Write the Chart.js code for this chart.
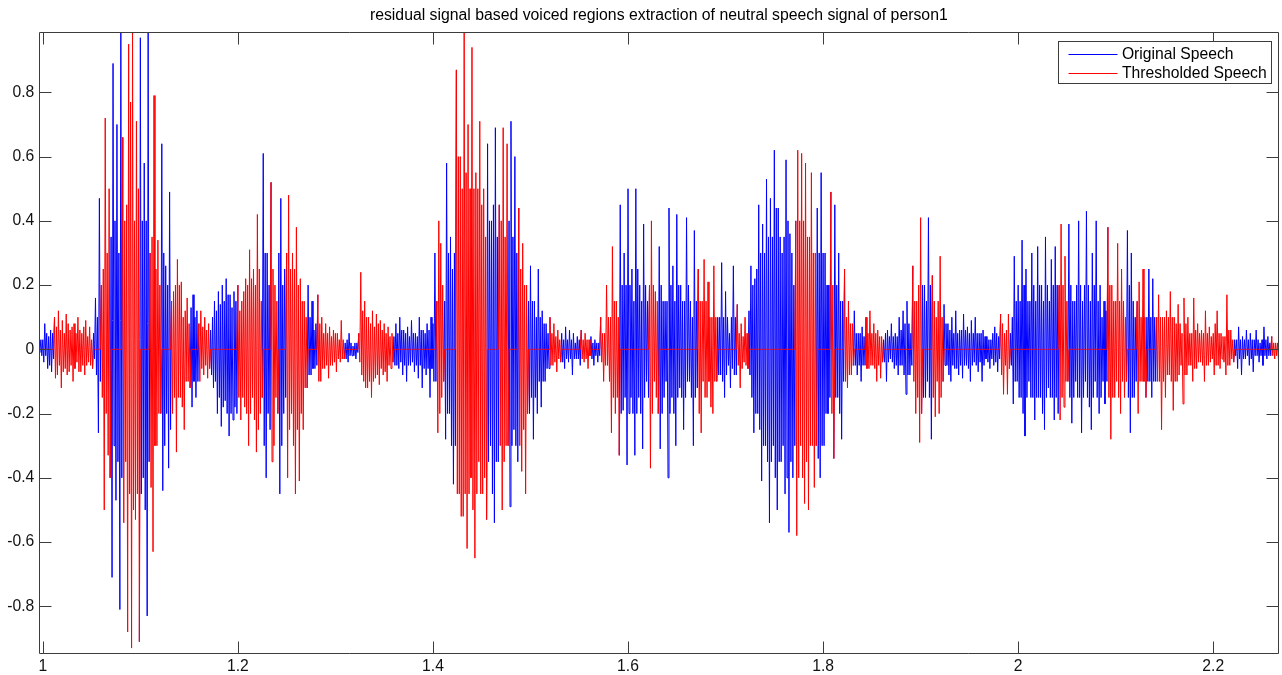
<!DOCTYPE html>
<html>
<head>
<meta charset="utf-8">
<title>residual signal based voiced regions extraction</title>
<script src="https://cdn.jsdelivr.net/npm/chart.js@4.4.1/dist/chart.umd.min.js"></script>
<style>
html,body{margin:0;padding:0;background:#fff;}
#wrap{width:1282px;height:675px;position:relative;}
canvas{display:block;}
</style>
</head>
<body>
<div id="wrap"><canvas id="c" width="1282" height="675"></canvas></div>
<script>
// ---------------- data ----------------
const chartTitle = 'residual signal based voiced regions extraction of neutral speech signal of person1';
const seriesLabels = ['Original Speech', 'Thresholded Speech'];

// time of first sample and sampling step (seconds)
const sampleStart = 0.996;
const sampleStep = 0.001;

// original speech amplitude, read as alternating local max / local min every 1 ms
const originalSpeech = [
  .02,-.01, .03,-.02,
  .03,-.04, .08,-.02, .05,-.06, .04,-.05, .06,-.07, .05,-.03,
  .1,-.09, .07,-.08, .12,-.05, .06,-.12, .09,-.07, .05,-.06, .11,-.08, .08,-.07, .06,-.05, .07,-.1,
  .08,-.06, .05,-.04, .1,-.07, .06,-.07, .05,-.05, .07,-.08, .09,-.05, .04,-.04, .07,-.05, .03,-.06,
  .05,-.03, .16,-.08, .1,-.26, .47,-.1,
  .2,-.15, .25,-.5, .72,-.2, .3,-.33, .5,-.4,
  .35,-.71, .89,-.3, .4,-.47, .7,-.35, .3,-.81, .99,-.4,
  .66,-.54, .4,-.35, .45,-.88, .95,-.45, .77,-.93, .99,-.5, .4,-.53, .71,-.45, .5,-.91,
  .97,-.45, .4,-.4, .58,-.5, .4,-.83, .99,-.35,
  .3,-.43, .35,-.63, .79,-.3, .25,-.3, .34,-.2, .2,-.2,
  .64,-.44, .3,-.3, .26,-.2, .2,-.37, .49,-.25,
  .15,-.2, .18,-.15, .2,-.32, .28,-.15, .2,-.15, .21,-.18, .1,-.25, .12,-.1, .16,-.1, .08,-.12,
  .13,-.18, .17,-.1, .1,-.15, .12,-.1,
  .08,-.1, .12,-.06, .07,-.08, .1,-.05, .06,-.09, .08,-.06,
  .06,-.08, .1,-.12, .15,-.1, .12,-.2, .18,-.15, .14,-.24, .2,-.18, .15,-.16, .22,-.2, .17,-.27,
  .17,-.2, .13,-.22, .18,-.18, .15,-.2,
  .2,-.15, .12,-.22, .15,-.15, .18,-.18, .22,-.2, .2,-.3, .31,-.2, .22,-.15, .25,-.22, .2,-.32,
  .42,-.25, .25,-.2, .15,-.15,
  .61,-.3, .3,-.4, .3,-.2, .2,-.25,
  .52,-.35, .25,-.3, .2,-.15, .15,-.2,
  .3,-.45, .47,-.3, .2,-.2, .25,-.15,
  .3,-.4, .48,-.25, .25,-.2, .3,-.3, .25,-.45, .38,-.25, .2,-.41, .22,-.2, .15,-.25, .15,-.12, .1,-.12,
  .2,-.08, .1,-.08, .15,-.06, .06,-.06, .08,-.05,
  .17,-.1, .08,-.1, .1,-.06, .05,-.06, .08,-.05, .05,-.09, .07,-.05, .04,-.05, .06,-.04, .05,-.07,
  .05,-.03, .03,-.04, .09,-.03, .03,-.03,
  .02,-.03, .03,-.04, .05,-.02, .02,-.02, .01,-.02, .02,-.03, .02,-.01,
  .05,-.04, .24,-.08, .12,-.1, .15,-.12, .1,-.12, .1,-.1, .08,-.15, .12,-.1, .07,-.09, .11,-.08,
  .08,-.11, .09,-.06, .06,-.08, .08,-.07, .05,-.1, .07,-.05, .04,-.06, .05,-.04,
  .04,-.05, .08,-.05, .05,-.06, .1,-.04, .06,-.08, .06,-.05, .05,-.1, .07,-.05, .04,-.05, .09,-.04,
  .05,-.07, .05,-.05, .04,-.09, .1,-.05, .06,-.12, .06,-.06, .05,-.08, .08,-.06, .06,-.15, .1,-.06,
  .08,-.1,
  .3,-.1,
  .15,-.26, .4,-.2, .33,-.15, .2,-.1,
  .15,-.28, .58,-.2, .3,-.2, .35,-.3, .25,-.42, .3,-.3,
  .87,-.45, .6,-.45, .6,-.52, .5,-.52, .99,-.45, .55,-.62, .7,-.45, .5,-.4, .94,-.5, .5,-.65,
  .55,-.45, .5,-.35, .71,-.45, .45,-.45, .5,-.4, .35,-.53,
  .64,-.35, .4,-.3, .4,-.45, .45,-.54, .69,-.35, .35,-.35,
  .45,-.3, .4,-.5, .69,-.35, .35,-.3, .64,-.3,
  .4,-.49, .71,-.3, .35,-.25, .6,-.3, .3,-.35,
  .44,-.3, .25,-.38, .33,-.25, .2,-.45, .2,-.2,
  .15,-.2, .26,-.15, .15,-.28, .15,-.15, .1,-.2, .25,-.1, .1,-.18, .12,-.1, .08,-.1, .08,-.06, .05,-.06,
  .1,-.05, .05,-.05, .08,-.04, .04,-.07, .06,-.03, .03,-.04,
  .05,-.04, .03,-.06, .07,-.03, .03,-.04, .06,-.03, .03,-.08, .05,-.03, .02,-.03, .04,-.03, .03,-.05,
  .06,-.03, .03,-.04, .05,-.03, .03,-.06, .03,-.02,
  .04,-.03, .02,-.05, .03,-.02, .02,-.04, .02,-.02,
  .1,-.04, .05,-.1, .05,-.05, .2,-.05, .1,-.1, .1,-.26, .32,-.15, .15,-.2, .15,-.15, .1,-.33,
  .45,-.2, .2,-.19, .3,-.15, .2,-.36, .5,-.2, .2,-.15, .25,-.2, .15,-.33, .5,-.2, .25,-.15,
  .2,-.2, .15,-.31, .39,-.15, .2,-.1, .15,-.15,
  .2,-.37, .4,-.2, .2,-.1, .18,-.15, .15,-.2,
  .32,-.31, .2,-.2, .15,-.15, .15,-.1, .15,-.4, .44,-.2, .2,-.15, .26,-.2, .15,-.3, .42,-.15,
  .2,-.12, .2,-.15, .15,-.25, .15,-.15, .41,-.1, .2,-.1, .15,-.15, .1,-.3, .37,-.15, .15,-.12,
  .25,-.2, .15,-.26, .15,-.1, .28,-.15, .15,-.15, .21,-.1, .1,-.18, .1,-.2, .26,-.1, .1,-.1,
  .1,-.08, .1,-.08, .27,-.1, .1,-.15, .18,-.08, .1,-.05, .05,-.12, .1,-.06, .26,-.08, .1,-.08,
  .14,-.05, .05,-.12, .08,-.06, .04,-.04, .1,-.05, .05,-.06,
  .12,-.08, .26,-.15, .2,-.26, .22,-.2, .25,-.2, .45,-.25, .3,-.41, .39,-.3, .3,-.3, .53,-.35,
  .35,-.54, .47,-.35, .35,-.3, .62,-.4, .44,-.5, .44,-.35, .35,-.35, .3,-.3, .35,-.45, .59,-.4,
  .4,-.57, .36,-.35, .3,-.4, .2,-.3,
  .4,-.58, .62,-.4, .4,-.3, .61,-.4, .4,-.48, .58,-.35, .35,-.5, .35,-.3, .55,-.3, .3,-.43, .3,-.3,
  .44,-.34, .3,-.4, .55,-.3, .3,-.3, .3,-.2, .2,-.2, .2,-.15,
  .49,-.2, .2,-.34,
  .45,-.15, .2,-.15, .3,-.2, .15,-.28, .15,-.1,
  .25,-.1, .1,-.12, .15,-.08, .08,-.08, .08,-.05,
  .12,-.05, .05,-.08, .05,-.05, .05,-.1, .07,-.05, .04,-.05,
  .1,-.06, .05,-.06, .12,-.05, .05,-.05, .08,-.06, .05,-.1, .06,-.05, .04,-.09, .04,-.04,
  .03,-.04, .05,-.1, .06,-.04, .04,-.03, .08,-.04, .04,-.06, .05,-.05, .04,-.08, .1,-.05, .06,-.05,
  .12,-.08, .08,-.14, .15,-.08, .08,-.08, .05,-.05,
  .26,-.1, .15,-.2, .15,-.15, .2,-.29, .41,-.2,
  .2,-.15, .2,-.15, .15,-.1, .41,-.15, .2,-.28,
  .23,-.15, .15,-.21, .1,-.1, .15,-.2, .29,-.15, .1,-.1,
  .14,-.05, .08,-.05, .08,-.08, .06,-.1, .1,-.05, .05,-.06, .12,-.06, .05,-.08, .06,-.05, .06,-.09,
  .11,-.05, .06,-.05, .07,-.06, .05,-.1, .09,-.05, .05,-.04, .1,-.05, .05,-.07, .05,-.04, .05,-.1,
  .06,-.05, .04,-.03, .04,-.04, .03,-.06, .03,-.03, .05,-.05, .07,-.04, .05,-.07, .04,-.03,
  .11,-.08, .08,-.14, .05,-.05, .06,-.14, .11,-.06,
  .05,-.05, .1,-.17, .29,-.1, .15,-.1, .2,-.15, .15,-.15, .34,-.2, .2,-.27, .25,-.15, .15,-.1,
  .15,-.15, .3,-.15, .2,-.22, .15,-.15, .32,-.15, .2,-.15, .2,-.2, .15,-.25, .35,-.15, .2,-.12,
  .15,-.15, .28,-.15, .2,-.22, .32,-.15, .2,-.2,
  .2,-.22, .39,-.15, .2,-.18, .29,-.1, .15,-.1,
  .39,-.15, .2,-.23, .15,-.15, .15,-.1, .2,-.15, .4,-.15, .2,-.26, .15,-.15, .2,-.1, .43,-.15,
  .2,-.18, .15,-.25, .3,-.15, .2,-.1, .4,-.15, .15,-.2, .2,-.15, .1,-.1, .15,-.17, .12,-.1,
  .38,-.15, .2,-.28, .2,-.15, .15,-.15, .15,-.1, .33,-.15, .15,-.2, .25,-.1, .15,-.15, .1,-.1,
  .37,-.15, .2,-.26, .3,-.15, .15,-.15, .1,-.1,
  .15,-.2, .21,-.1, .1,-.1, .25,-.1, .1,-.15,
  .1,-.1, .25,-.1, .1,-.15, .22,-.1, .1,-.1,
  .1,-.1, .17,-.1, .1,-.25, .1,-.1, .1,-.15, .12,-.08, .1,-.08, .18,-.1, .1,-.19, .1,-.1,
  .08,-.1, .14,-.08, .08,-.05, .05,-.17, .16,-.08, .08,-.08, .1,-.05, .05,-.05, .05,-.1, .16,-.06,
  .06,-.06, .08,-.04, .05,-.04, .06,-.05, .05,-.1, .12,-.05, .05,-.05, .07,-.04, .04,-.03, .05,-.08,
  .08,-.05, .12,-.05, .05,-.06, .05,-.03, .04,-.04, .04,-.08, .17,-.05, .06,-.05, .06,-.03, .03,-.04,
  .03,-.02, .03,-.06, .07,-.03, .03,-.08, .04,-.03, .03,-.03, .06,-.02, .03,-.05, .05,-.03, .03,-.07,
  .03,-.02, .06,-.02, .03,-.04, .02,-.02, .03,-.05, .07,-.02, .03,-.03, .04,-.02, .02,-.02,
  .04,-.02, .02,-.03, .02,-.02, .02,-.04
];

// frames kept by the threshold (start, end in seconds)
const thresholdedFrames = [
  [1.0115,1.0515],[1.0595,1.0695],[1.0815,1.0995],[1.1095,1.1215],[1.1315,1.1515],
  [1.1595,1.1715],[1.1995,1.2255],[1.2335,1.2415],[1.2495,1.2715],[1.2815,1.3095],
  [1.3235,1.3595],[1.4035,1.4115],[1.4235,1.4555],[1.4675,1.4775],[1.4875,1.4975],
  [1.5195,1.5315],[1.5515,1.5615],[1.5715,1.5915],[1.6215,1.6315],[1.6715,1.6915],
  [1.7115,1.7235],[1.7715,1.7935],[1.8075,1.8115],[1.8215,1.8315],[1.8435,1.8615],
  [1.8915,1.9015],[1.9115,1.9235],[1.9815,1.9915],[2.0415,2.0515],[2.0915,2.1115],
  [2.1215,2.1315],[2.1415,2.2215],[2.2595,2.2700]
];

const xTickValues = [1, 1.2, 1.4, 1.6, 1.8, 2, 2.2];
const xTickLabels = ['1', '1.2', '1.4', '1.6', '1.8', '2', '2.2'];
const yTickValues = [-0.8, -0.6, -0.4, -0.2, 0, 0.2, 0.4, 0.6, 0.8];
const yTickLabels = ['-0.8', '-0.6', '-0.4', '-0.2', '0', '0.2', '0.4', '0.6', '0.8'];
const xRange = [0.9964, 2.2667];
const yRange = [-0.9463, 0.9868];

// ---------------- build datasets ----------------
const inKeptFrame = t => thresholdedFrames.some(([a, b]) => t >= a && t <= b);
const originalPoints = originalSpeech.map((v, i) => ({ x: sampleStart + sampleStep * i, y: v }));
const thresholdedPoints = originalPoints.map(p => ({ x: p.x, y: inKeptFrame(p.x) ? p.y : 0 }));

const FONT = '"Liberation Sans", Arial, Helvetica, sans-serif';
const FSIZE = 15.7;
const AXIS_COLOR = '#3c3c3c';
Chart.defaults.font.family = FONT;
Chart.defaults.font.size = FSIZE;
Chart.defaults.color = '#111';

// Matlab-like box with inward ticks on all four sides
const axesFrame = {
  id: 'axesFrame',
  afterDatasetsDraw(chart) {
    const { ctx, chartArea: a, scales: { x, y } } = chart;
    const L = Math.round(a.left) + 0.5, R = Math.round(a.right) + 0.5;
    const T = Math.round(a.top) + 0.5, B = Math.round(a.bottom) + 0.5;
    const len = 12;
    ctx.save();
    ctx.strokeStyle = AXIS_COLOR;
    ctx.lineWidth = 1;
    ctx.beginPath();
    ctx.rect(L, T, R - L, B - T);
    x.ticks.forEach(t => {
      const px = Math.round(x.getPixelForValue(t.value)) + 0.5;
      ctx.moveTo(px, B); ctx.lineTo(px, B - len);
      ctx.moveTo(px, T); ctx.lineTo(px, T + len);
    });
    y.ticks.forEach(t => {
      const py = Math.round(y.getPixelForValue(t.value)) + 0.5;
      ctx.moveTo(L, py); ctx.lineTo(L + len, py);
      ctx.moveTo(R, py); ctx.lineTo(R - len, py);
    });
    ctx.stroke();
    ctx.restore();
  }
};

// boxed legend in the upper right corner of the axes
const boxedLegend = {
  id: 'boxedLegend',
  afterDraw(chart) {
    const { ctx, chartArea: a } = chart;
    const ds = chart.data.datasets;
    ctx.save();
    ctx.font = FSIZE + 'px ' + FONT;
    const tw = Math.max(...ds.map(d => ctx.measureText(d.label).width));
    const padL = 10, lineLen = 49, gap = 4.4, padR = 4.5, rowH = 19, padT = 12, h = 42;
    const w = padL + lineLen + gap + tw + padR;
    const right = a.right - 7.6, top = a.top + 8.4;
    const left = Math.round(right - w) + 0.5, T = Math.round(top) + 0.5;
    const W = Math.round(w);
    ctx.fillStyle = '#ffffff';
    ctx.fillRect(left, T, W, h);
    ctx.strokeStyle = AXIS_COLOR;
    ctx.lineWidth = 1;
    ctx.strokeRect(left, T, W, h);
    ds.forEach((d, k) => {
      const yy = Math.round(T + padT + k * rowH) + 0.5;
      ctx.beginPath();
      ctx.strokeStyle = d.borderColor;
      ctx.lineWidth = 1;
      ctx.moveTo(left + padL, yy);
      ctx.lineTo(left + padL + lineLen, yy);
      ctx.stroke();
      ctx.fillStyle = '#000';
      ctx.textAlign = 'left';
      ctx.textBaseline = 'middle';
      ctx.fillText(d.label, left + padL + lineLen + gap, yy + 0.5);
    });
    ctx.restore();
  }
};

// the red trace covers the blue one inside kept frames; skip the hidden blue strokes there
// so that anti-aliased blue edges do not tint the red trace
const hiddenUnderRed = c => {
  const a = originalPoints[c.p0DataIndex], b = originalPoints[c.p1DataIndex];
  return (a && b && inKeptFrame(a.x) && inKeptFrame(b.x)) ? 'rgba(0,0,255,0)' : undefined;
};

new Chart(document.getElementById('c').getContext('2d'), {
  type: 'line',
  data: {
    datasets: [
      { label: seriesLabels[0], data: originalPoints, borderColor: '#0000ff', backgroundColor: '#0000ff',
        borderWidth: 1, pointRadius: 0, tension: 0, fill: false, order: 2,
        segment: { borderColor: hiddenUnderRed } },
      { label: seriesLabels[1], data: thresholdedPoints, borderColor: '#ff0000', backgroundColor: '#ff0000',
        borderWidth: 1, pointRadius: 0, tension: 0, fill: false, order: 1 }
    ]
  },
  options: {
    responsive: false,
    animation: false,
    events: [],
    layout: { padding: { left: 0, right: 3.7, top: 0, bottom: 0 } },
    plugins: {
      legend: { display: false },
      tooltip: { enabled: false },
      title: {
        display: true, text: chartTitle, fullSize: false, color: '#000',
        font: { size: 15.8, weight: 'normal' },
        padding: { top: 6.5, bottom: 6.9 }
      }
    },
    scales: {
      x: {
        type: 'linear', min: xRange[0], max: xRange[1],
        grid: { display: false, drawTicks: false, tickLength: 0 }, border: { display: false },
        afterBuildTicks: s => { s.ticks = xTickValues.map(v => ({ value: v })); },
        afterFit: s => { s.height = 21.7; },
        ticks: { autoSkip: false, maxRotation: 0, padding: 3.7, color: '#111',
          callback: (v, i) => xTickLabels[i] }
      },
      y: {
        type: 'linear', min: yRange[0], max: yRange[1],
        grid: { display: false, drawTicks: false, tickLength: 0 }, border: { display: false },
        afterBuildTicks: s => { s.ticks = yTickValues.map(v => ({ value: v })); },
        afterFit: s => { s.width = 39.3; },
        ticks: { autoSkip: false, padding: 5, color: '#111',
          callback: (v, i) => yTickLabels[i] }
      }
    }
  },
  plugins: [axesFrame, boxedLegend]
});
</script>
</body>
</html>
